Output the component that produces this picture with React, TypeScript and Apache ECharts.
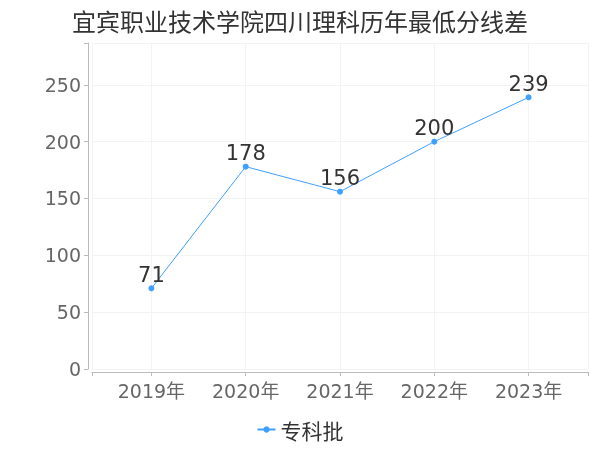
import React, { useEffect, useRef } from "react";
import * as echarts from "echarts";

const title = "宜宾职业技术学院四川理科历年最低分线差";
const categories = ["2019年", "2020年", "2021年", "2022年", "2023年"];
const seriesName = "专科批";
const values = [71, 178, 156, 200, 239];

const FONT = "'DejaVu Sans', 'Noto Sans CJK SC', sans-serif";
const CJK = "'Noto Sans CJK SC', sans-serif";

export default function App() {
  const ref = useRef<HTMLDivElement>(null);
  useEffect(() => {
    if (!ref.current) return;
    const chart = echarts.init(ref.current, null, { renderer: "svg" });
    chart.setOption({
      animation: false,
      textStyle: { fontFamily: FONT },
      title: {
        text: title,
        left: "center",
        top: 3,
        textStyle: { fontSize: 24, fontWeight: "normal", color: "#333", fontFamily: CJK },
      },
      legend: {
        bottom: 5,
        left: "center",
        itemWidth: 18,
        itemHeight: 8,
        itemGap: 10,
        textStyle: { fontSize: 21, color: "#333", fontFamily: CJK },
        data: [seriesName],
      },
      grid: { left: 92, right: 12, top: 43, bottom: 81, containLabel: false },
      xAxis: {
        type: "value",
        min: -0.63,
        max: 4.63,
        offset: 3,
        axisLine: { show: true, onZero: false, lineStyle: { color: "#bbb" } },
        axisTick: { show: true, length: 4, lineStyle: { color: "#bbb" } },
        splitLine: { show: true, lineStyle: { color: "#f3f3f3" } },
        axisLabel: {
          fontSize: 19,
          color: "#666",
          margin: 9,
          fontFamily: FONT,
          formatter: (v: number) => {
            const i = Math.round(v);
            return Math.abs(v - i) < 1e-6 && categories[i] ? categories[i] : "";
          },
        },
      },
      yAxis: {
        type: "value",
        min: 0,
        max: (e: { max: number }) => e.max * 1.2,
        interval: 50,
        offset: 4,
        axisLine: { show: true, onZero: false, lineStyle: { color: "#bbb" } },
        axisTick: { show: true, length: 4, lineStyle: { color: "#bbb" } },
        splitLine: { show: true, lineStyle: { color: "#f3f3f3" } },
        axisLabel: {
          fontSize: 19,
          color: "#666",
          margin: 7,
          fontFamily: FONT,
          formatter: (v: number) => (v % 50 === 0 ? String(v) : ""),
        },
      },
      series: [
        {
          name: seriesName,
          type: "line",
          data: values.map((v, i) => [i, v]),
          symbol: "circle",
          symbolSize: 6,
          itemStyle: { color: "#3fa0ff" },
          lineStyle: { color: "#3fa0ff", width: 1 },
          label: {
            show: true,
            position: "top",
            distance: 0,
            fontSize: 21,
            color: "#333",
            fontFamily: FONT,
            formatter: (p: { value: number[] }) => String(p.value[1]),
          },
        },
      ],
    });
    return () => chart.dispose();
  }, []);
  return (
    <div
      ref={ref}
      style={{ position: "fixed", left: 0, top: 0, width: 600, height: 450 }}
    />
  );
}
